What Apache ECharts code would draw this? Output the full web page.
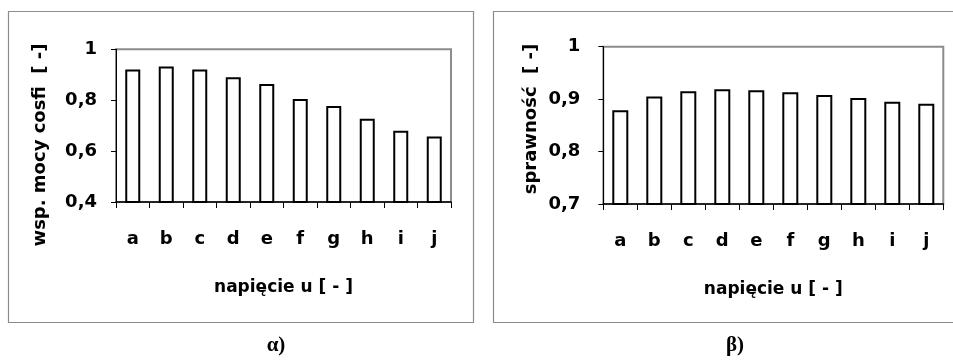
<!DOCTYPE html>
<html>
<head>
<meta charset="utf-8">
<script src="https://cdn.jsdelivr.net/npm/echarts@6/dist/echarts.min.js"></script>
<style>
html,body{margin:0;padding:0;background:#fff;}
#c{width:953px;height:364px;}
</style>
</head>
<body>
<div id="c"></div>
<script>
const categories = ['a','b','c','d','e','f','g','h','i','j'];
const cosfiValues = [0.921, 0.932, 0.921, 0.890, 0.864, 0.805, 0.777, 0.727, 0.680, 0.657];
const efficiencyValues = [0.879, 0.905, 0.915, 0.919, 0.917, 0.913, 0.908, 0.902, 0.895, 0.891];
const leftTicks = {min: 0.4, max: 1, interval: 0.2};
const rightTicks = {min: 0.7, max: 1, interval: 0.1};
const leftYTitle = 'wsp. mocy cosfi  [ -]';
const rightYTitle = 'sprawność  [ -]';
const xTitle = 'napięcie u [ - ]';
const captions = ['α)', 'β)'];

const FONT = 'DejaVu Sans';
const chart = echarts.init(document.getElementById('c'), null, {renderer: 'canvas'});

function fmt(v) {
  let s = (Math.round(v * 10) / 10).toString();
  return s.replace('.', ',');
}

function xAxisDef(gridIndex) {
  return {
    type: 'category', gridIndex: gridIndex, data: categories,
    axisLine: {lineStyle: {color: '#000', width: 1.5}},
    axisTick: {show: true, inside: false, length: 6, lineStyle: {color: '#000', width: 1}},
    axisLabel: {color: '#000', fontFamily: FONT, fontWeight: 'bold', fontSize: 18, margin: 28},
    name: xTitle, nameLocation: 'middle', nameGap: 77,
    nameTextStyle: {color: '#000', fontFamily: FONT, fontWeight: 'bold', fontSize: 17}
  };
}
function yAxisDef(gridIndex, t, margin) {
  return {
    type: 'value', gridIndex: gridIndex, min: t.min, max: t.max, interval: t.interval,
    splitLine: {show: false},
    axisLine: {show: true, lineStyle: {color: '#000', width: 1}},
    axisTick: {show: true, inside: false, length: 5, lineStyle: {color: '#000', width: 1}},
    axisLabel: {color: '#000', fontFamily: FONT, fontWeight: 'bold', fontSize: 18, margin: margin, formatter: fmt}
  };
}
const barStyle = {color: '#fff', borderColor: '#000', borderWidth: 2};

chart.setOption({
  animation: false,
  backgroundColor: '#fff',
  grid: [
    {left: 116, top: 49.3, width: 335, height: 152.7, show: true, borderColor: '#8c8c8c', borderWidth: 2, backgroundColor: 'transparent'},
    {left: 603.3, top: 46.7, width: 340, height: 157.3, show: true, borderColor: '#8c8c8c', borderWidth: 2, backgroundColor: 'transparent'}
  ],
  xAxis: [xAxisDef(0), xAxisDef(1)],
  yAxis: [yAxisDef(0, leftTicks, 19), yAxisDef(1, rightTicks, 23)],
  series: [
    {type: 'bar', xAxisIndex: 0, yAxisIndex: 0, data: cosfiValues, barWidth: 15, itemStyle: barStyle, silent: true},
    {type: 'bar', xAxisIndex: 1, yAxisIndex: 1, data: efficiencyValues, barWidth: 16, itemStyle: barStyle, silent: true}
  ],
  graphic: [
    {type: 'rect', shape: {x: 8.5, y: 11.5, width: 465, height: 311}, style: {fill: 'none', stroke: '#8c8c8c', lineWidth: 1.2}, silent: true},
    {type: 'rect', shape: {x: 493.5, y: 11.5, width: 480, height: 311}, style: {fill: 'none', stroke: '#8c8c8c', lineWidth: 1.2}, silent: true},
    {type: 'text', x: 40, y: 145, rotation: Math.PI / 2,
     style: {text: leftYTitle, fill: '#000', font: 'bold 18px "DejaVu Sans"', textAlign: 'center', textVerticalAlign: 'middle'}},
    {type: 'text', x: 531, y: 119, rotation: Math.PI / 2,
     style: {text: rightYTitle, fill: '#000', font: 'bold 18px "DejaVu Sans"', textAlign: 'center', textVerticalAlign: 'middle'}},
    {type: 'text', x: 276, y: 346,
     style: {text: captions[0], fill: '#000', font: 'bold 21px "Liberation Serif"', textAlign: 'center', textVerticalAlign: 'middle'}},
    {type: 'text', x: 735, y: 346,
     style: {text: captions[1], fill: '#000', font: 'bold 21px "Liberation Serif"', textAlign: 'center', textVerticalAlign: 'middle'}}
  ]
});
</script>
</body>
</html>
